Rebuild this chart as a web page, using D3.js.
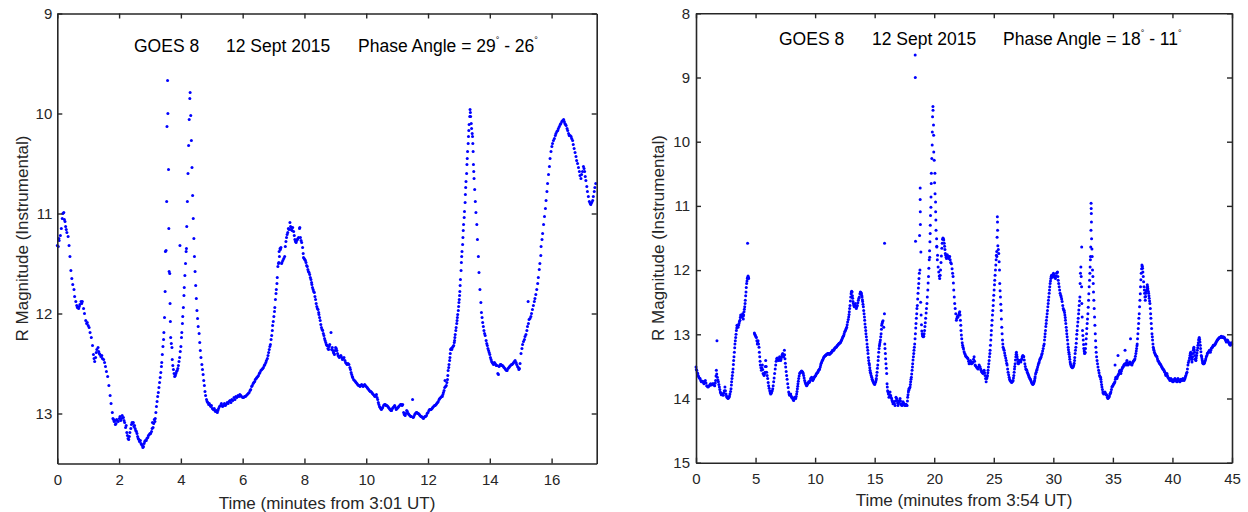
<!DOCTYPE html>
<html><head><meta charset="utf-8">
<script src="https://cdn.jsdelivr.net/npm/d3@7"></script>
<style>
body{margin:0;background:#fff;}
svg{display:block;font-family:"Liberation Sans",Arial,Helvetica,sans-serif;}
</style>
</head><body>
<svg id="chart" width="1248" height="512"></svg>
<script>
// ---- DATA: left panel (time in minutes from 3:01 UT, R magnitude) ----
const leftSeries = [
[0.00,11.32],[0.03,11.33],[0.05,11.25],[0.06,11.27],[0.10,11.22],[0.13,11.15],[0.16,11.05],[0.18,11.00],[0.21,10.99],[0.23,11.06],[0.25,11.08],[0.27,11.13],[0.29,11.16],[0.31,11.19],[0.35,11.23],[0.38,11.32],[0.41,11.43],[0.44,11.57],[0.47,11.65],[0.50,11.71],[0.54,11.76],[0.56,11.83],[0.60,11.88],[0.63,11.92],[0.65,11.94],[0.69,11.95],[0.71,11.93],[0.73,11.91],[0.77,11.88],[0.79,11.90],[0.81,11.88],[0.85,11.95],[0.88,12.00],[0.92,12.07],[0.95,12.10],[0.97,12.09],[1.00,12.12],[1.03,12.14],[1.06,12.19],[1.10,12.24],[1.14,12.32],[1.17,12.41],[1.19,12.45],[1.21,12.48],[1.24,12.44],[1.26,12.39],[1.28,12.36],[1.32,12.34],[1.34,12.38],[1.36,12.40],[1.38,12.41],[1.41,12.43],[1.44,12.42],[1.46,12.45],[1.50,12.46],[1.53,12.49],[1.56,12.53],[1.59,12.58],[1.63,12.63],[1.67,12.72],[1.71,12.82],[1.74,12.90],[1.78,12.99],[1.80,13.05],[1.82,13.06],[1.84,13.08],[1.86,13.07],[1.88,13.11],[1.90,13.10],[1.92,13.06],[1.94,13.07],[1.97,13.08],[2.01,13.05],[2.03,13.03],[2.05,13.07],[2.08,13.05],[2.10,13.02],[2.14,13.04],[2.16,13.07],[2.18,13.09],[2.21,13.14],[2.23,13.12],[2.25,13.19],[2.27,13.22],[2.29,13.25],[2.31,13.26],[2.33,13.23],[2.35,13.19],[2.38,13.15],[2.40,13.11],[2.42,13.09],[2.44,13.10],[2.46,13.09],[2.48,13.13],[2.50,13.12],[2.52,13.15],[2.54,13.17],[2.56,13.18],[2.58,13.20],[2.60,13.23],[2.62,13.25],[2.64,13.26],[2.66,13.28],[2.69,13.27],[2.71,13.30],[2.73,13.31],[2.75,13.32],[2.77,13.34],[2.79,13.33],[2.81,13.30],[2.83,13.28],[2.85,13.27],[2.88,13.27],[2.90,13.25],[2.93,13.24],[2.95,13.22],[2.98,13.21],[3.00,13.20],[3.02,13.20],[3.05,13.18],[3.07,13.15],[3.08,13.09],[3.10,13.14],[3.12,13.10],[3.14,13.06],[3.16,13.08],[3.17,13.05],[3.19,12.99],[3.21,12.93],[3.23,12.88],[3.25,12.83],[3.27,12.79],[3.29,12.74],[3.31,12.69],[3.33,12.64],[3.35,12.59],[3.37,12.53],[3.38,12.49],[3.40,12.41],[3.42,12.33],[3.44,12.26],[3.45,12.19],[3.47,12.04],[3.49,11.78],[3.50,11.38],[3.52,11.37],[3.54,10.88],[3.55,10.13],[3.57,9.67],[3.58,10.00],[3.60,10.56],[3.61,11.15],[3.62,11.58],[3.64,11.60],[3.65,11.90],[3.66,12.08],[3.67,12.24],[3.69,12.30],[3.71,12.34],[3.72,12.46],[3.74,12.52],[3.76,12.56],[3.78,12.60],[3.80,12.63],[3.82,12.62],[3.84,12.60],[3.86,12.58],[3.88,12.57],[3.90,12.55],[3.92,12.52],[3.94,12.48],[3.96,12.44],[3.97,11.32],[3.98,12.38],[4.00,12.33],[4.02,12.24],[4.03,12.19],[4.05,12.10],[4.06,12.03],[4.08,11.94],[4.10,11.82],[4.11,11.74],[4.13,11.62],[4.15,11.50],[4.17,11.38],[4.18,11.35],[4.19,11.13],[4.21,10.88],[4.23,10.60],[4.25,10.32],[4.27,10.06],[4.29,9.85],[4.30,9.79],[4.32,10.02],[4.34,10.27],[4.36,10.54],[4.38,10.82],[4.40,11.05],[4.42,11.25],[4.44,11.43],[4.46,11.58],[4.48,11.72],[4.50,11.85],[4.52,11.97],[4.54,12.05],[4.56,12.13],[4.59,12.20],[4.61,12.29],[4.63,12.37],[4.65,12.44],[4.68,12.51],[4.70,12.56],[4.72,12.61],[4.74,12.67],[4.76,12.72],[4.78,12.78],[4.80,12.82],[4.83,12.86],[4.85,12.88],[4.87,12.89],[4.90,12.91],[4.92,12.90],[4.95,12.92],[4.97,12.93],[4.99,12.92],[5.02,12.95],[5.05,12.96],[5.08,12.95],[5.10,12.97],[5.12,12.98],[5.15,12.97],[5.18,12.99],[5.20,12.97],[5.22,12.95],[5.25,12.93],[5.28,12.92],[5.31,12.90],[5.33,12.92],[5.35,12.93],[5.38,12.92],[5.41,12.90],[5.44,12.92],[5.46,12.91],[5.50,12.89],[5.53,12.90],[5.56,12.88],[5.59,12.87],[5.62,12.89],[5.65,12.86],[5.68,12.87],[5.72,12.84],[5.75,12.86],[5.78,12.83],[5.81,12.84],[5.85,12.82],[5.88,12.83],[5.91,12.81],[5.94,12.82],[5.96,12.83],[6.00,12.84],[6.03,12.84],[6.06,12.83],[6.09,12.83],[6.12,12.82],[6.15,12.81],[6.18,12.80],[6.21,12.79],[6.24,12.77],[6.26,12.76],[6.29,12.73],[6.31,12.72],[6.34,12.70],[6.36,12.69],[6.39,12.68],[6.41,12.66],[6.44,12.65],[6.46,12.64],[6.49,12.63],[6.51,12.62],[6.54,12.60],[6.56,12.59],[6.59,12.57],[6.62,12.56],[6.65,12.55],[6.67,12.54],[6.70,12.52],[6.72,12.51],[6.75,12.49],[6.77,12.47],[6.80,12.45],[6.82,12.42],[6.84,12.39],[6.86,12.36],[6.88,12.33],[6.90,12.31],[6.92,12.26],[6.94,12.22],[6.96,12.17],[6.97,12.12],[6.99,12.08],[7.01,12.03],[7.03,11.98],[7.04,11.94],[7.06,11.86],[7.08,11.80],[7.09,11.76],[7.11,11.70],[7.12,11.64],[7.14,11.53],[7.16,11.50],[7.17,11.49],[7.18,11.38],[7.19,11.43],[7.21,11.35],[7.22,11.36],[7.24,11.34],[7.26,11.50],[7.27,11.49],[7.30,11.47],[7.33,11.45],[7.36,11.43],[7.38,11.33],[7.40,11.28],[7.42,11.24],[7.44,11.21],[7.46,11.19],[7.48,11.15],[7.50,11.16],[7.53,11.09],[7.55,11.13],[7.57,11.16],[7.58,11.14],[7.60,11.17],[7.62,11.14],[7.65,11.18],[7.67,11.22],[7.69,11.26],[7.71,11.28],[7.73,11.29],[7.75,11.27],[7.77,11.26],[7.79,11.25],[7.81,11.24],[7.84,11.15],[7.85,11.14],[7.87,11.24],[7.89,11.27],[7.91,11.29],[7.94,11.34],[7.96,11.40],[7.97,11.44],[7.99,11.45],[8.01,11.46],[8.03,11.47],[8.05,11.49],[8.07,11.52],[8.09,11.53],[8.11,11.56],[8.13,11.58],[8.15,11.59],[8.17,11.61],[8.19,11.64],[8.21,11.66],[8.23,11.69],[8.24,11.71],[8.26,11.74],[8.28,11.76],[8.30,11.78],[8.32,11.79],[8.34,11.83],[8.36,11.86],[8.38,11.90],[8.40,11.93],[8.42,11.95],[8.44,11.96],[8.46,11.99],[8.47,12.01],[8.49,12.04],[8.51,12.07],[8.53,12.11],[8.55,12.14],[8.57,12.16],[8.59,12.17],[8.61,12.20],[8.63,12.22],[8.65,12.25],[8.67,12.27],[8.69,12.29],[8.71,12.31],[8.73,12.32],[8.74,12.32],[8.76,12.35],[8.78,12.36],[8.80,12.33],[8.82,12.31],[8.86,12.19],[8.88,12.36],[8.90,12.34],[8.92,12.37],[8.94,12.39],[8.96,12.40],[8.97,12.41],[8.99,12.37],[9.01,12.34],[9.03,12.35],[9.05,12.37],[9.07,12.40],[9.09,12.42],[9.11,12.43],[9.13,12.44],[9.16,12.43],[9.18,12.42],[9.21,12.44],[9.23,12.46],[9.26,12.45],[9.28,12.44],[9.31,12.47],[9.33,12.49],[9.36,12.50],[9.38,12.51],[9.41,12.50],[9.44,12.51],[9.47,12.54],[9.49,12.56],[9.51,12.59],[9.53,12.61],[9.55,12.63],[9.56,12.64],[9.59,12.66],[9.62,12.67],[9.65,12.68],[9.67,12.69],[9.70,12.70],[9.72,12.71],[9.75,12.72],[9.77,12.72],[9.80,12.73],[9.82,12.72],[9.85,12.71],[9.87,12.72],[9.90,12.73],[9.92,12.72],[9.95,12.71],[9.97,12.72],[10.00,12.73],[10.03,12.74],[10.05,12.75],[10.08,12.76],[10.10,12.77],[10.13,12.78],[10.15,12.78],[10.18,12.79],[10.20,12.80],[10.23,12.81],[10.26,12.82],[10.28,12.83],[10.31,12.82],[10.33,12.81],[10.35,12.84],[10.37,12.86],[10.39,12.89],[10.41,12.91],[10.43,12.93],[10.45,12.94],[10.47,12.95],[10.49,12.96],[10.51,12.95],[10.53,12.94],[10.56,12.92],[10.59,12.91],[10.62,12.91],[10.64,12.92],[10.67,12.92],[10.70,12.93],[10.72,12.94],[10.75,12.95],[10.77,12.96],[10.80,12.97],[10.82,12.97],[10.85,12.95],[10.87,12.94],[10.90,12.93],[10.92,12.92],[10.95,12.94],[10.97,12.96],[11.00,12.95],[11.03,12.94],[11.05,12.93],[11.08,12.92],[11.11,12.91],[11.13,12.91],[11.16,12.92],[11.18,12.91],[11.21,12.99],[11.23,13.01],[11.26,13.02],[11.28,13.00],[11.31,12.97],[11.33,12.98],[11.36,13.00],[11.38,13.01],[11.41,13.02],[11.44,13.03],[11.46,13.03],[11.50,12.86],[11.52,13.04],[11.54,13.03],[11.57,13.01],[11.59,13.00],[11.62,12.99],[11.64,12.99],[11.67,13.00],[11.69,13.00],[11.72,13.01],[11.74,13.02],[11.77,13.03],[11.79,13.03],[11.82,13.04],[11.85,13.05],[11.87,13.04],[11.90,13.03],[11.92,13.03],[11.95,13.02],[11.97,13.00],[12.00,12.99],[12.03,12.97],[12.05,12.96],[12.08,12.96],[12.10,12.96],[12.13,12.95],[12.15,12.94],[12.18,12.93],[12.21,12.92],[12.23,12.92],[12.26,12.91],[12.28,12.90],[12.31,12.89],[12.33,12.88],[12.36,12.86],[12.38,12.85],[12.41,12.84],[12.44,12.83],[12.46,12.83],[12.48,12.81],[12.50,12.79],[12.52,12.77],[12.54,12.74],[12.55,12.67],[12.57,12.73],[12.59,12.72],[12.61,12.69],[12.63,12.66],[12.64,12.62],[12.65,12.57],[12.67,12.54],[12.68,12.51],[12.70,12.47],[12.71,12.44],[12.72,12.40],[12.73,12.36],[12.75,12.35],[12.77,12.36],[12.79,12.34],[12.81,12.33],[12.83,12.32],[12.85,12.29],[12.86,12.27],[12.87,12.24],[12.88,12.21],[12.90,12.17],[12.91,12.14],[12.93,12.10],[12.94,12.07],[12.95,12.04],[12.96,12.01],[12.98,11.97],[12.99,11.93],[13.00,11.89],[13.01,11.86],[13.02,11.82],[13.03,11.78],[13.04,11.72],[13.05,11.66],[13.07,11.57],[13.08,11.49],[13.09,11.43],[13.10,11.38],[13.12,11.31],[13.13,11.24],[13.14,11.17],[13.15,11.11],[13.17,11.04],[13.18,10.98],[13.20,10.89],[13.21,10.81],[13.22,10.74],[13.23,10.68],[13.25,10.60],[13.26,10.51],[13.27,10.45],[13.28,10.38],[13.30,10.30],[13.31,10.23],[13.32,10.17],[13.33,10.11],[13.35,10.03],[13.36,9.96],[13.37,9.99],[13.38,10.03],[13.40,10.10],[13.41,10.15],[13.43,10.20],[13.44,10.23],[13.45,10.30],[13.46,10.38],[13.47,10.51],[13.48,10.58],[13.49,10.65],[13.51,10.76],[13.53,10.88],[13.55,10.99],[13.58,11.11],[13.60,11.26],[13.63,11.43],[13.65,11.59],[13.68,11.76],[13.71,11.89],[13.73,11.99],[13.75,12.04],[13.77,12.09],[13.79,12.13],[13.81,12.17],[13.83,12.20],[13.85,12.22],[13.88,12.27],[13.90,12.30],[13.92,12.32],[13.94,12.35],[13.96,12.37],[13.98,12.39],[14.00,12.41],[14.02,12.44],[14.04,12.46],[14.06,12.48],[14.08,12.49],[14.10,12.50],[14.12,12.51],[14.15,12.49],[14.17,12.50],[14.19,12.51],[14.21,12.52],[14.23,12.52],[14.26,12.60],[14.28,12.61],[14.30,12.53],[14.32,12.52],[14.34,12.51],[14.36,12.51],[14.39,12.52],[14.41,12.52],[14.44,12.53],[14.46,12.54],[14.49,12.55],[14.51,12.56],[14.54,12.57],[14.56,12.57],[14.59,12.55],[14.62,12.54],[14.64,12.53],[14.67,12.52],[14.70,12.51],[14.72,12.51],[14.75,12.50],[14.77,12.49],[14.80,12.48],[14.82,12.47],[14.85,12.49],[14.87,12.51],[14.90,12.53],[14.92,12.54],[14.94,12.56],[14.96,12.55],[14.98,12.50],[15.01,12.40],[15.04,12.35],[15.06,12.31],[15.09,12.28],[15.12,12.26],[15.14,12.23],[15.17,12.21],[15.20,12.17],[15.22,12.13],[15.24,11.88],[15.25,12.10],[15.27,12.06],[15.30,12.05],[15.33,12.03],[15.35,12.00],[15.38,11.96],[15.41,11.92],[15.44,11.88],[15.46,11.85],[15.49,11.81],[15.52,11.76],[15.55,11.70],[15.57,11.64],[15.60,11.56],[15.62,11.50],[15.65,11.42],[15.66,11.33],[15.69,11.26],[15.71,11.20],[15.74,11.11],[15.77,11.03],[15.80,10.95],[15.82,10.87],[15.85,10.78],[15.87,10.70],[15.90,10.61],[15.93,10.53],[15.95,10.45],[15.98,10.38],[16.01,10.33],[16.03,10.30],[16.06,10.27],[16.09,10.25],[16.12,10.22],[16.14,10.20],[16.17,10.18],[16.20,10.17],[16.22,10.15],[16.25,10.13],[16.28,10.11],[16.30,10.10],[16.33,10.08],[16.36,10.07],[16.39,10.06],[16.41,10.08],[16.43,10.10],[16.45,10.11],[16.47,10.12],[16.50,10.15],[16.52,10.17],[16.55,10.20],[16.57,10.22],[16.60,10.22],[16.63,10.23],[16.65,10.25],[16.68,10.27],[16.70,10.31],[16.73,10.35],[16.76,10.39],[16.79,10.43],[16.81,10.47],[16.84,10.50],[16.87,10.54],[16.90,10.58],[16.92,10.62],[16.95,10.65],[16.97,10.61],[17.00,10.58],[17.03,10.53],[17.05,10.55],[17.07,10.58],[17.09,10.63],[17.11,10.67],[17.14,10.73],[17.16,10.78],[17.19,10.83],[17.22,10.88],[17.25,10.90],[17.27,10.91],[17.30,10.89],[17.33,10.87],[17.35,10.83],[17.38,10.78],[17.40,10.74],[17.43,10.70]
];

// ---- DATA: right panel (time in minutes from 3:54 UT, R magnitude) ----
const rightSeries = [
[0.00,13.51],[0.03,13.55],[0.06,13.56],[0.10,13.60],[0.14,13.61],[0.18,13.64],[0.22,13.66],[0.28,13.68],[0.34,13.69],[0.40,13.72],[0.45,13.74],[0.50,13.73],[0.56,13.73],[0.62,13.75],[0.67,13.77],[0.72,13.74],[0.78,13.72],[0.84,13.76],[0.90,13.80],[0.95,13.81],[1.01,13.82],[1.06,13.81],[1.12,13.80],[1.18,13.78],[1.23,13.77],[1.28,13.79],[1.34,13.78],[1.40,13.77],[1.46,13.77],[1.52,13.79],[1.57,13.80],[1.62,13.76],[1.65,13.72],[1.68,13.65],[1.71,13.56],[1.74,13.62],[1.76,13.10],[1.79,13.67],[1.84,13.71],[1.88,13.74],[1.92,13.78],[1.96,13.82],[2.00,13.86],[2.04,13.90],[2.09,13.92],[2.13,13.94],[2.17,13.93],[2.21,13.93],[2.25,13.94],[2.29,13.95],[2.34,13.91],[2.38,13.88],[2.43,13.82],[2.47,13.88],[2.52,13.93],[2.56,13.96],[2.60,13.98],[2.65,13.99],[2.69,14.00],[2.73,13.99],[2.77,13.98],[2.81,13.96],[2.85,13.93],[2.90,13.89],[2.94,13.85],[2.97,13.79],[2.99,13.74],[3.02,13.69],[3.05,13.64],[3.08,13.59],[3.11,13.54],[3.14,13.47],[3.16,13.41],[3.19,13.35],[3.22,13.28],[3.25,13.21],[3.27,13.15],[3.30,13.10],[3.33,13.05],[3.36,13.00],[3.39,12.94],[3.42,12.90],[3.44,12.86],[3.48,12.88],[3.53,12.89],[3.57,12.86],[3.61,12.83],[3.65,12.80],[3.69,12.78],[3.72,12.74],[3.75,12.70],[3.79,12.72],[3.83,12.73],[3.87,12.70],[3.92,12.68],[3.95,12.72],[3.97,12.76],[4.00,12.70],[4.03,12.65],[4.06,12.61],[4.09,12.57],[4.12,12.52],[4.14,12.47],[4.17,12.40],[4.20,12.34],[4.22,12.27],[4.25,12.21],[4.28,12.17],[4.31,12.13],[4.33,11.58],[4.34,12.11],[4.37,12.09],[4.40,12.11],[4.42,12.13],
[4.90,12.98],[4.94,13.00],[4.98,13.02],[5.03,13.04],[5.07,13.05],[5.11,13.10],[5.15,13.15],[5.18,13.12],[5.21,13.10],[5.25,13.15],[5.29,13.20],[5.32,13.28],[5.35,13.35],[5.38,13.42],[5.40,13.48],[5.45,13.52],[5.49,13.56],[5.53,13.52],[5.57,13.48],[5.60,13.55],[5.63,13.61],[5.67,13.62],[5.71,13.64],[5.75,13.62],[5.79,13.59],[5.82,13.50],[5.85,13.41],[5.89,13.50],[5.93,13.59],[5.97,13.64],[6.02,13.69],[6.06,13.75],[6.10,13.80],[6.14,13.84],[6.19,13.88],[6.23,13.91],[6.27,13.93],[6.31,13.92],[6.35,13.90],[6.40,13.88],[6.44,13.85],[6.48,13.80],[6.52,13.74],[6.56,13.68],[6.60,13.61],[6.65,13.54],[6.69,13.48],[6.73,13.42],[6.77,13.38],[6.82,13.37],[6.86,13.38],[6.90,13.40],[6.94,13.41],[6.98,13.38],[7.02,13.35],[7.06,13.38],[7.11,13.41],[7.15,13.38],[7.19,13.35],[7.23,13.32],[7.28,13.30],[7.32,13.32],[7.36,13.35],[7.42,13.25],[7.44,13.32],[7.47,13.38],[7.50,13.45],[7.53,13.51],[7.57,13.58],[7.61,13.64],[7.65,13.70],[7.70,13.77],[7.74,13.83],[7.78,13.90],[7.82,13.93],[7.86,13.95],[7.90,13.94],[7.95,13.93],[7.99,13.96],[8.03,13.98],[8.07,13.99],[8.12,14.00],[8.16,14.02],[8.20,14.03],[8.24,14.00],[8.28,13.98],[8.33,13.99],[8.37,14.00],[8.41,13.97],[8.45,13.93],[8.48,13.89],[8.51,13.85],[8.54,13.81],[8.56,13.77],[8.59,13.73],[8.62,13.69],[8.66,13.65],[8.70,13.61],[8.74,13.60],[8.79,13.59],[8.83,13.58],[8.87,13.57],[8.91,13.58],[8.96,13.59],[9.00,13.61],[9.04,13.64],[9.08,13.68],[9.12,13.72],[9.17,13.75],[9.21,13.77],[9.25,13.79],[9.29,13.80],[9.33,13.79],[9.38,13.77],[9.42,13.76],[9.46,13.74],[9.50,13.75],[9.54,13.74],[9.58,13.72],[9.63,13.69],[9.67,13.68],[9.71,13.67],[9.75,13.70],[9.80,13.72],[9.84,13.70],[9.88,13.69],[9.92,13.67],[9.96,13.66],[10.01,13.65],[10.05,13.64],[10.09,13.62],[10.13,13.61],[10.18,13.60],[10.22,13.59],[10.26,13.57],[10.30,13.56],[10.34,13.55],[10.38,13.54],[10.43,13.51],[10.47,13.48],[10.51,13.45],[10.55,13.43],[10.60,13.41],[10.64,13.40],[10.68,13.38],[10.72,13.36],[10.76,13.35],[10.80,13.34],[10.85,13.33],[10.89,13.33],[10.93,13.32],[10.97,13.31],[11.01,13.31],[11.05,13.30],[11.10,13.30],[11.14,13.30],[11.18,13.31],[11.22,13.31],[11.27,13.30],[11.31,13.29],[11.35,13.28],[11.39,13.28],[11.43,13.26],[11.47,13.25],[11.52,13.25],[11.56,13.25],[11.60,13.23],[11.64,13.22],[11.69,13.21],[11.73,13.20],[11.77,13.20],[11.81,13.19],[11.85,13.18],[11.89,13.17],[11.94,13.16],[11.98,13.15],[12.02,13.14],[12.06,13.14],[12.10,13.13],[12.15,13.12],[12.19,13.10],[12.23,13.09],[12.27,13.07],[12.31,13.05],[12.36,13.03],[12.40,13.02],[12.44,12.99],[12.48,12.96],[12.53,12.95],[12.57,12.93],[12.61,12.91],[12.65,12.89],[12.69,12.85],[12.73,12.81],[12.78,12.77],[12.82,12.73],[12.85,12.69],[12.87,12.65],[12.90,12.60],[12.93,12.55],[12.96,12.48],[12.99,12.42],[13.02,12.37],[13.04,12.34],[13.07,12.33],[13.10,12.34],[13.13,12.40],[13.15,12.44],[13.18,12.49],[13.21,12.52],[13.25,12.55],[13.29,12.57],[13.33,12.55],[13.38,12.52],[13.42,12.56],[13.46,12.60],[13.50,12.57],[13.55,12.55],[13.59,12.51],[13.63,12.47],[13.67,12.44],[13.71,12.42],[13.76,12.37],[13.80,12.34],[13.84,12.35],[13.88,12.36],[13.91,12.39],[13.94,12.42],[13.97,12.46],[13.99,12.49],[14.02,12.53],[14.05,12.57],[14.08,12.63],[14.11,12.68],[14.14,12.73],[14.16,12.78],[14.19,12.84],[14.22,12.89],[14.25,12.94],[14.27,12.99],[14.30,13.04],[14.33,13.09],[14.36,13.15],[14.39,13.20],[14.42,13.25],[14.44,13.30],[14.47,13.36],[14.50,13.41],[14.53,13.45],[14.56,13.48],[14.59,13.52],[14.61,13.56],[14.64,13.59],[14.67,13.61],[14.71,13.64],[14.75,13.67],[14.79,13.70],[14.83,13.72],[14.87,13.74],[14.92,13.76],[14.96,13.77],[15.00,13.78],[15.04,13.76],[15.09,13.74],[15.12,13.71],[15.14,13.69],[15.17,13.64],[15.20,13.59],[15.23,13.53],[15.26,13.48],[15.29,13.41],[15.31,13.35],[15.34,13.28],[15.37,13.22],[15.40,13.18],[15.42,13.15],[15.45,13.12],[15.48,13.09],[15.51,13.04],[15.54,12.99],[15.57,12.92],[15.59,12.86],[15.62,12.83],[15.65,12.81],[15.70,12.79],[15.76,12.89],[15.82,12.68],[15.83,11.58],[15.85,13.15],[15.87,13.22],[15.90,13.30],[15.92,13.38],[15.95,13.46],[15.98,13.53],[16.01,13.61],[16.04,13.77],[16.06,13.82],[16.09,13.88],[16.12,13.90],[16.15,13.93],[16.20,13.98],[16.25,13.94],[16.29,13.90],[16.33,13.95],[16.37,13.98],[16.42,14.00],[16.46,14.03],[16.50,14.05],[16.54,14.08],[16.58,14.06],[16.62,14.05],[16.66,14.08],[16.71,14.11],[16.75,14.04],[16.79,13.98],[16.84,14.00],[16.88,14.03],[16.92,14.07],[16.96,14.11],[17.00,14.08],[17.04,14.05],[17.08,14.03],[17.13,14.00],[17.17,14.04],[17.21,14.08],[17.25,14.10],[17.30,14.11],[17.34,14.08],[17.38,14.05],[17.42,14.07],[17.46,14.08],[17.50,14.10],[17.55,14.11],[17.59,14.10],[17.63,14.09],[17.67,14.10],[17.72,14.11],[17.75,14.04],[17.77,13.98],[17.80,13.94],[17.83,13.90],[17.86,13.87],[17.88,13.85],[17.92,13.84],[17.97,13.82],[18.00,13.78],[18.02,13.74],[18.05,13.70],[18.08,13.67],[18.11,13.62],[18.14,13.56],[18.17,13.51],[18.19,13.46],[18.22,13.40],[18.25,13.35],[18.28,13.30],[18.30,13.25],[18.33,13.20],[18.36,13.15],[18.39,13.07],[18.40,8.65],[18.41,9.00],[18.42,12.99],[18.43,11.55],[18.45,12.90],[18.47,12.83],[18.50,12.75],[18.53,12.68],[18.55,12.60],[18.58,12.55],[18.61,12.45],[18.64,12.36],[18.67,12.28],[18.70,12.21],[18.72,12.13],[18.75,12.05],[18.77,11.46],[18.80,12.00],[18.82,10.72],[18.82,10.90],[18.83,11.09],[18.84,11.29],[18.86,12.50],[18.88,11.72],[18.90,12.70],[18.93,12.85],[18.96,12.95],[18.99,12.99],[19.02,13.02],[19.05,13.03],[19.08,13.04],[19.12,13.03],[19.15,12.99],[19.19,12.94],[19.22,12.88],[19.25,12.82],[19.28,12.75],[19.32,12.67],[19.35,12.60],[19.39,12.52],[19.42,12.42],[19.46,12.31],[19.49,12.20],[19.52,12.10],[19.55,11.97],[19.58,11.84],[19.61,11.70],[19.62,11.80],[19.64,11.56],[19.66,11.43],[19.67,11.30],[19.69,11.15],[19.72,11.02],[19.73,10.86],[19.75,10.65],[19.76,10.49],[19.80,10.26],[19.83,10.05],[19.84,9.85],[19.86,9.61],[19.89,9.45],[19.90,9.51],[19.94,9.74],[19.95,9.90],[19.96,10.16],[20.00,10.29],[20.03,10.64],[20.06,10.49],[20.07,10.81],[20.11,10.94],[20.12,11.09],[20.14,11.22],[20.15,11.38],[20.20,11.51],[20.21,11.63],[20.22,11.64],[20.26,11.84],[20.28,11.77],[20.33,11.95],[20.38,12.03],[20.42,12.09],[20.46,12.13],[20.50,12.08],[20.53,12.00],[20.57,11.88],[20.60,11.78],[20.64,11.66],[20.67,11.58],[20.70,11.52],[20.73,11.50],[20.77,11.51],[20.80,11.53],[20.84,11.58],[20.87,11.63],[20.90,11.68],[20.93,11.74],[20.97,11.77],[21.00,11.80],[21.03,11.82],[21.07,11.78],[21.10,11.76],[21.14,11.79],[21.18,11.80],[21.22,11.82],[21.26,11.79],[21.30,11.79],[21.34,11.84],[21.38,11.88],[21.44,11.90],[21.50,11.98],[21.54,12.05],[21.58,12.10],[21.61,12.20],[21.64,12.31],[21.68,12.42],[21.72,12.52],[21.76,12.60],[21.81,12.68],[21.86,12.78],[21.90,12.75],[21.95,12.72],[22.00,12.73],[22.05,12.70],[22.10,12.67],[22.14,12.65],[22.17,12.70],[22.20,12.78],[22.23,12.86],[22.25,12.94],[22.28,13.01],[22.31,13.07],[22.35,13.13],[22.38,13.17],[22.42,13.20],[22.46,13.23],[22.51,13.27],[22.56,13.30],[22.61,13.32],[22.65,13.34],[22.70,13.35],[22.75,13.36],[22.79,13.37],[22.84,13.38],[22.88,13.42],[22.93,13.46],[22.98,13.44],[23.04,13.41],[23.08,13.43],[23.12,13.46],[23.17,13.45],[23.21,13.44],[23.26,13.43],[23.30,13.39],[23.35,13.35],[23.39,13.42],[23.43,13.48],[23.47,13.49],[23.54,13.51],[23.60,13.52],[23.64,13.53],[23.68,13.54],[23.72,13.51],[23.77,13.48],[23.81,13.50],[23.85,13.51],[23.90,13.54],[23.94,13.56],[23.98,13.58],[24.02,13.59],[24.06,13.60],[24.10,13.61],[24.15,13.58],[24.19,13.56],[24.23,13.60],[24.27,13.64],[24.31,13.69],[24.36,13.74],[24.41,13.69],[24.44,13.66],[24.47,13.64],[24.50,13.60],[24.52,13.56],[24.55,13.51],[24.58,13.46],[24.61,13.41],[24.64,13.35],[24.67,13.30],[24.69,13.25],[24.72,13.17],[24.75,13.09],[24.78,13.01],[24.80,12.94],[24.83,12.86],[24.86,12.78],[24.89,12.70],[24.92,12.63],[24.95,12.55],[24.97,12.47],[25.00,12.39],[25.03,12.31],[25.06,12.23],[25.08,12.16],[25.11,12.08],[25.14,12.00],[25.17,11.92],[25.20,11.84],[25.22,11.77],[25.25,11.71],[25.26,11.79],[25.28,11.49],[25.30,11.17],[25.31,11.25],[25.32,11.38],[25.34,11.62],[25.38,11.68],[25.42,11.74],[25.45,11.87],[25.48,12.00],[25.50,12.21],[25.53,12.32],[25.56,12.42],[25.59,12.53],[25.62,12.63],[25.64,12.76],[25.67,12.89],[25.70,12.99],[25.73,13.09],[25.76,13.15],[25.78,13.20],[25.83,13.23],[25.87,13.25],[25.91,13.29],[25.95,13.33],[26.00,13.37],[26.04,13.41],[26.08,13.45],[26.12,13.48],[26.16,13.54],[26.20,13.59],[26.25,13.63],[26.29,13.67],[26.33,13.70],[26.37,13.72],[26.42,13.73],[26.46,13.74],[26.50,13.75],[26.54,13.74],[26.58,13.73],[26.62,13.72],[26.65,13.68],[26.68,13.64],[26.71,13.59],[26.74,13.54],[26.76,13.50],[26.79,13.46],[26.82,13.40],[26.85,13.35],[26.88,13.31],[26.90,13.28],[26.93,13.32],[26.96,13.35],[26.99,13.39],[27.02,13.43],[27.05,13.45],[27.07,13.46],[27.10,13.43],[27.13,13.41],[27.16,13.42],[27.18,13.41],[27.22,13.42],[27.27,13.43],[27.31,13.40],[27.35,13.38],[27.39,13.35],[27.44,13.33],[27.48,13.34],[27.52,13.35],[27.56,13.40],[27.61,13.46],[27.65,13.50],[27.69,13.54],[27.73,13.55],[27.77,13.56],[27.82,13.59],[27.86,13.61],[27.90,13.63],[27.94,13.65],[27.98,13.67],[28.03,13.69],[28.07,13.70],[28.11,13.72],[28.15,13.74],[28.19,13.76],[28.24,13.77],[28.28,13.78],[28.32,13.77],[28.36,13.76],[28.39,13.74],[28.42,13.72],[28.45,13.69],[28.47,13.66],[28.51,13.62],[28.56,13.59],[28.60,13.56],[28.64,13.54],[28.68,13.51],[28.73,13.48],[28.77,13.45],[28.81,13.43],[28.85,13.40],[28.89,13.38],[28.94,13.37],[28.98,13.35],[29.02,13.32],[29.06,13.30],[29.10,13.26],[29.15,13.22],[29.19,13.18],[29.23,13.15],[29.26,13.09],[29.29,13.04],[29.31,12.99],[29.34,12.94],[29.37,12.88],[29.40,12.83],[29.42,12.78],[29.45,12.73],[29.48,12.68],[29.51,12.63],[29.54,12.57],[29.57,12.52],[29.59,12.47],[29.62,12.42],[29.65,12.36],[29.68,12.31],[29.70,12.26],[29.73,12.21],[29.76,12.17],[29.79,12.13],[29.82,12.10],[29.85,12.08],[29.89,12.10],[29.93,12.11],[29.97,12.08],[30.01,12.05],[30.05,12.07],[30.10,12.09],[30.14,12.11],[30.18,12.13],[30.22,12.09],[30.27,12.05],[30.31,12.04],[30.35,12.03],[30.38,12.10],[30.41,12.16],[30.45,12.21],[30.49,12.26],[30.53,12.31],[30.57,12.36],[30.62,12.39],[30.66,12.42],[30.70,12.45],[30.74,12.49],[30.79,12.55],[30.83,12.60],[30.87,12.62],[30.91,12.63],[30.94,12.66],[30.97,12.70],[31.00,12.74],[31.02,12.78],[31.05,12.83],[31.08,12.89],[31.11,12.94],[31.13,12.99],[31.16,13.04],[31.19,13.09],[31.22,13.15],[31.25,13.20],[31.27,13.24],[31.30,13.28],[31.33,13.31],[31.36,13.35],[31.38,13.39],[31.41,13.43],[31.44,13.46],[31.47,13.48],[31.51,13.50],[31.55,13.51],[31.60,13.52],[31.64,13.51],[31.68,13.50],[31.72,13.48],[31.75,13.45],[31.78,13.41],[31.80,13.36],[31.83,13.30],[31.86,13.25],[31.89,13.20],[31.92,13.14],[31.95,13.07],[31.97,13.00],[32.00,12.94],[32.03,12.87],[32.06,12.81],[32.09,12.75],[32.12,12.68],[32.14,12.62],[32.17,12.55],[32.20,12.48],[32.23,12.42],[32.25,12.21],[32.28,12.05],[32.31,11.95],[32.34,12.10],[32.37,12.26],[32.38,11.64],[32.39,12.52],[32.42,12.73],[32.45,12.94],[32.48,13.02],[32.51,13.09],[32.54,13.16],[32.56,13.22],[32.59,13.26],[32.62,13.30],[32.65,13.29],[32.67,13.28],[32.70,13.22],[32.73,13.15],[32.76,13.07],[32.79,12.99],[32.81,12.91],[32.84,12.83],[32.87,12.76],[32.90,12.68],[32.93,12.58],[32.96,12.47],[32.98,12.37],[33.01,12.26],[33.04,12.16],[33.07,12.05],[33.09,11.95],[33.11,11.84],[33.12,11.79],[33.14,11.64],[33.16,11.38],[33.17,10.96],[33.18,11.04],[33.19,11.12],[33.20,11.25],[33.21,11.51],[33.24,11.67],[33.26,11.79],[33.29,12.00],[33.32,12.10],[33.35,12.21],[33.37,12.34],[33.40,12.47],[33.43,12.60],[33.46,12.73],[33.49,12.86],[33.52,12.99],[33.55,13.10],[33.57,13.20],[33.60,13.28],[33.63,13.35],[33.67,13.41],[33.71,13.46],[33.75,13.51],[33.80,13.56],[33.84,13.60],[33.88,13.64],[33.92,13.66],[33.96,13.67],[33.99,13.70],[34.02,13.74],[34.05,13.78],[34.08,13.82],[34.12,13.86],[34.16,13.90],[34.20,13.92],[34.24,13.93],[34.29,13.92],[34.33,13.90],[34.37,13.92],[34.41,13.93],[34.45,13.94],[34.50,13.95],[34.54,13.98],[34.58,14.00],[34.62,13.99],[34.66,13.98],[34.71,13.96],[34.75,13.93],[34.79,13.92],[34.83,13.90],[34.88,13.86],[34.92,13.82],[34.96,13.81],[35.00,13.80],[35.04,13.78],[35.08,13.77],[35.13,13.76],[35.17,13.74],[35.18,13.48],[35.21,13.70],[35.25,13.67],[35.30,13.68],[35.34,13.69],[35.38,13.66],[35.42,13.64],[35.43,13.33],[35.46,13.63],[35.50,13.61],[35.55,13.58],[35.59,13.56],[35.63,13.59],[35.67,13.61],[35.72,13.57],[35.76,13.54],[35.80,13.52],[35.84,13.51],[35.88,13.50],[35.92,13.48],[35.97,13.47],[36.01,13.46],[36.02,13.25],[36.05,13.47],[36.09,13.48],[36.14,13.44],[36.18,13.41],[36.22,13.45],[36.26,13.48],[36.30,13.47],[36.34,13.46],[36.39,13.44],[36.43,13.43],[36.47,13.45],[36.48,13.07],[36.51,13.46],[36.56,13.47],[36.60,13.48],[36.64,13.45],[36.68,13.43],[36.72,13.42],[36.76,13.41],[36.81,13.40],[36.85,13.38],[36.89,13.34],[36.93,13.30],[36.96,13.26],[36.99,13.22],[37.02,13.18],[37.04,13.15],[37.07,13.07],[37.10,12.99],[37.13,12.91],[37.16,12.83],[37.18,12.75],[37.21,12.68],[37.24,12.57],[37.27,12.47],[37.30,12.37],[37.32,12.26],[37.35,12.15],[37.38,12.05],[37.41,11.98],[37.44,11.92],[37.47,11.94],[37.49,11.97],[37.52,12.03],[37.55,12.10],[37.58,12.18],[37.61,12.26],[37.64,12.31],[37.66,12.36],[37.69,12.42],[37.72,12.47],[37.75,12.41],[37.77,12.36],[37.80,12.33],[37.83,12.31],[37.86,12.27],[37.89,12.23],[37.92,12.26],[37.94,12.29],[37.97,12.33],[38.00,12.36],[38.03,12.40],[38.05,12.44],[38.08,12.48],[38.11,12.52],[38.14,12.60],[38.17,12.68],[38.19,12.75],[38.22,12.83],[38.25,12.91],[38.28,12.99],[38.31,13.04],[38.33,13.09],[38.36,13.15],[38.39,13.20],[38.42,13.23],[38.45,13.25],[38.49,13.28],[38.53,13.30],[38.57,13.32],[38.61,13.33],[38.66,13.34],[38.70,13.35],[38.74,13.38],[38.78,13.41],[38.82,13.42],[38.87,13.43],[38.91,13.45],[38.95,13.46],[38.99,13.47],[39.03,13.48],[39.08,13.50],[39.12,13.51],[39.16,13.53],[39.20,13.54],[39.25,13.55],[39.29,13.56],[39.33,13.58],[39.37,13.59],[39.41,13.62],[39.45,13.64],[39.50,13.62],[39.54,13.61],[39.58,13.64],[39.62,13.67],[39.67,13.68],[39.71,13.69],[39.75,13.70],[39.79,13.72],[39.83,13.71],[39.87,13.69],[39.92,13.70],[39.96,13.72],[40.00,13.73],[40.04,13.74],[40.09,13.73],[40.13,13.72],[40.17,13.70],[40.21,13.69],[40.25,13.70],[40.29,13.72],[40.34,13.73],[40.38,13.74],[40.42,13.71],[40.46,13.69],[40.50,13.70],[40.55,13.72],[40.59,13.73],[40.63,13.74],[40.67,13.72],[40.71,13.70],[40.76,13.71],[40.80,13.72],[40.84,13.70],[40.88,13.69],[40.93,13.70],[40.97,13.72],[41.01,13.70],[41.05,13.69],[41.09,13.66],[41.13,13.64],[41.18,13.61],[41.22,13.59],[41.26,13.54],[41.30,13.48],[41.34,13.44],[41.39,13.41],[41.43,13.37],[41.47,13.33],[41.50,13.30],[41.53,13.28],[41.55,13.31],[41.58,13.35],[41.61,13.39],[41.64,13.43],[41.67,13.39],[41.69,13.35],[41.72,13.30],[41.75,13.25],[41.78,13.22],[41.80,13.20],[41.83,13.24],[41.86,13.28],[41.89,13.33],[41.92,13.38],[41.95,13.40],[41.97,13.41],[42.00,13.37],[42.03,13.33],[42.06,13.29],[42.09,13.25],[42.12,13.21],[42.14,13.17],[42.17,13.13],[42.20,13.09],[42.23,13.07],[42.25,13.05],[42.28,13.08],[42.31,13.12],[42.34,13.17],[42.36,13.22],[42.39,13.27],[42.42,13.33],[42.45,13.35],[42.48,13.38],[42.51,13.41],[42.53,13.43],[42.56,13.45],[42.59,13.46],[42.63,13.46],[42.67,13.45],[42.71,13.43],[42.76,13.41],[42.80,13.38],[42.84,13.35],[42.89,13.33],[42.93,13.30],[42.97,13.29],[43.01,13.28],[43.05,13.27],[43.10,13.25],[43.14,13.26],[43.18,13.28],[43.22,13.25],[43.26,13.22],[43.31,13.21],[43.35,13.20],[43.39,13.19],[43.43,13.17],[43.48,13.17],[43.52,13.17],[43.56,13.16],[43.60,13.15],[43.64,13.13],[43.68,13.12],[43.73,13.10],[43.77,13.09],[43.81,13.08],[43.85,13.07],[43.90,13.06],[43.94,13.05],[43.98,13.05],[44.02,13.05],[44.06,13.04],[44.10,13.03],[44.15,13.04],[44.19,13.05],[44.23,13.05],[44.27,13.04],[44.32,13.05],[44.36,13.05],[44.40,13.07],[44.44,13.08],[44.48,13.10],[44.52,13.12],[44.57,13.10],[44.61,13.09],[44.65,13.10],[44.69,13.12],[44.74,13.13],[44.78,13.15],[44.82,13.16],[44.86,13.17],[44.90,13.14],[44.94,13.13],[44.98,13.15]
];

// ---- tick values and texts ----
const leftXTicks = [0, 2, 4, 6, 8, 10, 12, 14, 16];
const leftYTicks = [9, 10, 11, 12, 13];
const rightXTicks = [0, 5, 10, 15, 20, 25, 30, 35, 40, 45];
const rightYTicks = [8, 9, 10, 11, 12, 13, 14, 15];
const leftXDomain = [0, 17.46];
const leftYDomain = [9, 13.5];
const rightXDomain = [0, 45];
const rightYDomain = [8, 15];
const leftXLabel = "Time (minutes from 3:01 UT)";
const rightXLabel = "Time (minutes from 3:54 UT)";
const yLabel = "R Magnitude (Instrumental)";
const titleSat = "GOES 8";
const titleDate = "12 Sept 2015";
const leftPhase = ["29", "26"];
const rightPhase = ["18", "11"];

// ---- layout ----
const svg = d3.select("#chart");
const ink = "#262626";

const panels = [
  {data: leftSeries, xd: leftXDomain, yd: leftYDomain, xt: leftXTicks, yt: leftYTicks,
   x0: 57.3, x1: 596.7, y0: 13.5, y1: 463.5, xlab: leftXLabel, xlabX: 327, xlabY: 509,
   ylabX: 28, phase: leftPhase, tx: [134, 226, 358], ty: 52, ypad: 5},
  {data: rightSeries, xd: rightXDomain, yd: rightYDomain, xt: rightXTicks, yt: rightYTicks,
   x0: 696, x1: 1232, y0: 13.3, y1: 462.7, xlab: rightXLabel, xlabX: 964, xlabY: 506,
   ylabX: 664, phase: rightPhase, tx: [779, 872, 1003], ty: 45, ypad: 6}
];

panels.forEach(p => {
  const x = d3.scaleLinear().domain(p.xd).range([p.x0, p.x1]);
  const y = d3.scaleLinear().domain(p.yd).range([p.y0, p.y1]);
  const g = svg.append("g");

  // points
  g.append("g").selectAll("circle").data(p.data).join("circle")
    .attr("cx", d => x(d[0])).attr("cy", d => y(d[1]))
    .attr("r", 1.5).attr("fill", "#0000ff");

  const styleAxis = sel => {
    sel.select(".domain").attr("stroke", ink).attr("stroke-width", 1.6);
    sel.selectAll(".tick line").attr("stroke", ink).attr("stroke-width", 1.4);
    sel.selectAll(".tick text").attr("fill", ink).style("font-size", "15px")
      .style("font-family", '"Liberation Sans", Arial, sans-serif');
  };

  g.append("g").attr("transform", `translate(0,${p.y1})`)
    .call(d3.axisBottom(x).tickValues(p.xt).tickSizeInner(-5).tickSizeOuter(0).tickPadding(11).tickFormat(d3.format("d")))
    .call(styleAxis);
  g.append("g").attr("transform", `translate(0,${p.y0})`)
    .call(d3.axisTop(x).tickValues(p.xt).tickSizeInner(-5).tickSizeOuter(0).tickFormat(""))
    .call(styleAxis);
  g.append("g").attr("transform", `translate(${p.x0},0)`)
    .call(d3.axisLeft(y).tickValues(p.yt).tickSizeInner(-5).tickSizeOuter(0).tickPadding(p.ypad).tickFormat(d3.format("d")))
    .call(styleAxis);
  g.append("g").attr("transform", `translate(${p.x1},0)`)
    .call(d3.axisRight(y).tickValues(p.yt).tickSizeInner(-5).tickSizeOuter(0).tickFormat(""))
    .call(styleAxis);
  g.selectAll(".domain").attr("fill", "none");

  // axis titles
  g.append("text").attr("x", p.xlabX).attr("y", p.xlabY).attr("text-anchor", "middle")
    .attr("fill", ink).style("font-size", "17px").text(p.xlab);
  g.append("text").attr("transform", `translate(${p.ylabX},${(p.y0 + p.y1) / 2}) rotate(-90)`)
    .attr("text-anchor", "middle").attr("fill", ink).style("font-size", "17px").text(yLabel);

  // in-plot title
  const fs = "17.5px";
  g.append("text").attr("x", p.tx[0]).attr("y", p.ty).attr("fill", "#000").style("font-size", fs).text(titleSat);
  g.append("text").attr("x", p.tx[1]).attr("y", p.ty).attr("fill", "#000").style("font-size", fs).text(titleDate);
  const t = g.append("text").attr("x", p.tx[2]).attr("y", p.ty).attr("fill", "#000").style("font-size", fs);
  t.append("tspan").text("Phase Angle = " + p.phase[0]);
  t.append("tspan").attr("dy", -9).style("font-size", "9px").text("\u00B0");
  t.append("tspan").attr("dy", 9).text(" - " + p.phase[1]);
  t.append("tspan").attr("dy", -9).style("font-size", "9px").text("\u00B0");
});
</script>
</body></html>
